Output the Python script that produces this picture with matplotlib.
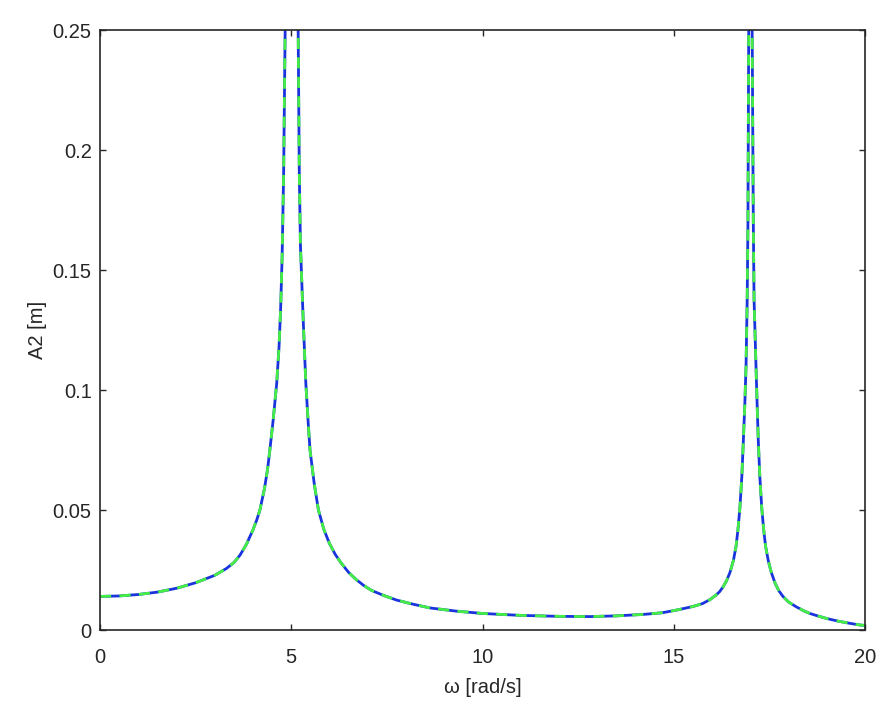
import matplotlib
matplotlib.use("Agg")
import matplotlib.pyplot as plt

omega = [0.0, 0.5, 1.0, 1.5, 2.0, 2.5, 3.0, 3.3, 3.5, 3.66, 3.83, 4.0, 4.1, 4.18,
         4.3, 4.38, 4.44, 4.53, 4.62, 4.68, 4.72, 4.76, 4.80, 4.84, 4.90, 5.00,
         5.10, 5.18, 5.21, 5.24, 5.31, 5.38, 5.44, 5.49, 5.60, 5.71, 5.85, 6.0,
         6.15, 6.3, 6.5, 6.7, 6.9, 7.1, 7.4, 7.75, 8.2, 8.63, 9.3, 10.0, 11.0,
         12.0, 12.8, 13.5, 14.2, 14.7, 15.1, 15.5, 15.75, 15.95, 16.1, 16.2, 16.29,
         16.38, 16.47, 16.56, 16.63, 16.68, 16.73, 16.78, 16.82, 16.86, 16.89,
         16.92, 16.94, 16.96, 17.0, 17.05, 17.08, 17.10, 17.15, 17.18, 17.21,
         17.25, 17.30, 17.35, 17.40, 17.47, 17.55, 17.65, 17.75, 17.86, 18.0,
         18.2, 18.4, 18.56, 18.8, 19.0, 19.3, 19.6, 19.87, 20.0]
A2 = [0.0140, 0.0142, 0.0148, 0.0158, 0.0174, 0.0197, 0.0228, 0.0256, 0.0281,
      0.0312, 0.0358, 0.0418, 0.0460, 0.0500, 0.0590, 0.0670, 0.0750, 0.0880,
      0.1030, 0.118, 0.133, 0.155, 0.190, 0.250, 0.40, 1.0,
      0.40, 0.250, 0.190, 0.160, 0.130, 0.103, 0.087, 0.075, 0.061, 0.050,
      0.042, 0.036, 0.0315, 0.0280, 0.0240, 0.0210, 0.0185, 0.0165, 0.0145,
      0.0125, 0.0107, 0.0092, 0.0079, 0.0069, 0.0061, 0.0057, 0.0056, 0.0059,
      0.0065, 0.0072, 0.0084, 0.0098, 0.0110, 0.0127, 0.0145, 0.0160, 0.0180,
      0.0205, 0.0240, 0.0290, 0.0350, 0.042, 0.051, 0.064, 0.079, 0.095, 0.110,
      0.1375, 0.170, 0.250, 1.0, 0.250, 0.170, 0.1375, 0.110, 0.094, 0.079,
      0.064, 0.051, 0.042, 0.035, 0.029, 0.024, 0.0195, 0.0163, 0.0139, 0.0117,
      0.0097, 0.0080, 0.0069, 0.0057, 0.0048, 0.0037, 0.0028, 0.0021, 0.0019]

xticks = [0, 5, 10, 15, 20]
yticks = [0, 0.05, 0.1, 0.15, 0.2, 0.25]
ytick_labels = ["0", "0.05", "0.1", "0.15", "0.2", "0.25"]

plt.rcParams['font.family'] = ['Liberation Sans', 'DejaVu Sans']
fig = plt.figure(figsize=(8.9, 7.06), dpi=100)
ax = fig.add_axes([0.1124, 0.1076, 0.8595, 0.8499])

ax.plot(omega, A2, color='#1a33dd', lw=2.0, solid_joinstyle='round')
ax.plot(omega, A2, color='#44ee44', lw=2.0, ls=(0, (4, 3)))

ax.set_xlim(0, 20)
ax.set_ylim(0, 0.25)
ax.set_xticks(xticks)
ax.set_yticks(yticks)
ax.set_yticklabels(ytick_labels)
ax.tick_params(direction='in', length=4, width=1, top=True, right=True,
               labelsize=14.5, colors='#262626')
ax.tick_params(axis='x', pad=13)
ax.tick_params(axis='y', pad=6)
for s in ax.spines.values():
    s.set_color('#262626')
    s.set_linewidth(1.2)
ax.set_xlabel('ω [rad/s]', fontsize=14.5, color='#262626', labelpad=8)
ax.set_ylabel('A2 [m]', fontsize=14.5, color='#262626', labelpad=4)

fig.savefig('out.png', dpi=100)
